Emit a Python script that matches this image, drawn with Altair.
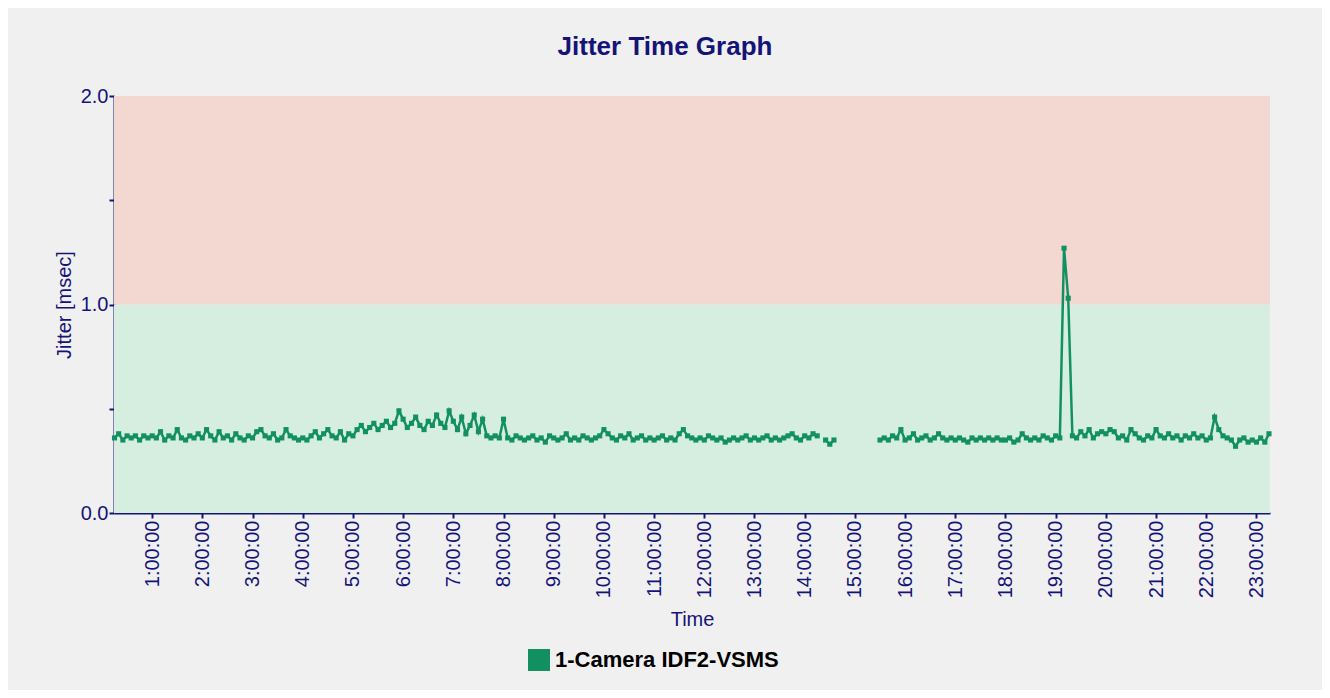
import altair as alt
import pandas as pd

SERIES = "1-Camera IDF2-VSMS"
TITLE = "Jitter Time Graph"
Y_TITLE = "Jitter [msec]"
X_TITLE = "Time"
HOUR_TICKS = list(range(1, 24))
Y_TICKS = [0, 0.5, 1.0, 1.5, 2.0]

# Samples every 5 minutes. Segment 1 starts 0:15, segment 2 starts 15:30.
seg1_start_min = 15
seg1_values = [
    # 0:15 - 0:55
    0.36, 0.38, 0.35, 0.37, 0.36, 0.37, 0.35, 0.37, 0.36,
    # 1:00
    0.37, 0.36, 0.39, 0.35, 0.37, 0.36, 0.40, 0.36, 0.35, 0.37, 0.36, 0.38,
    # 2:00
    0.36, 0.40, 0.37, 0.35, 0.39, 0.36, 0.37, 0.35, 0.38, 0.36, 0.35, 0.37,
    # 3:00
    0.36, 0.39, 0.40, 0.37, 0.36, 0.38, 0.35, 0.36, 0.40, 0.37, 0.36, 0.35,
    # 4:00
    0.36, 0.35, 0.37, 0.39, 0.36, 0.38, 0.40, 0.37, 0.36, 0.39, 0.35, 0.38,
    # 5:00
    0.37, 0.40, 0.42, 0.39, 0.41, 0.43, 0.40, 0.42, 0.44, 0.41, 0.43, 0.49,
    # 6:00
    0.45, 0.41, 0.43, 0.46, 0.42, 0.40, 0.44, 0.42, 0.47, 0.43, 0.41, 0.49,
    # 7:00
    0.44, 0.40, 0.46, 0.38, 0.42, 0.47, 0.39, 0.45, 0.37, 0.36, 0.37, 0.36,
    # 8:00
    0.45, 0.36, 0.35, 0.37, 0.36, 0.35, 0.36, 0.37, 0.35, 0.36, 0.34, 0.37,
    # 9:00
    0.36, 0.35, 0.36, 0.38, 0.35, 0.36, 0.35, 0.37, 0.36, 0.35, 0.36, 0.37,
    # 10:00
    0.40, 0.38, 0.36, 0.35, 0.37, 0.36, 0.38, 0.35, 0.36, 0.37, 0.35, 0.36,
    # 11:00
    0.35, 0.36, 0.37, 0.35, 0.36, 0.35, 0.38, 0.40, 0.37, 0.36, 0.35, 0.36,
    # 12:00
    0.35, 0.37, 0.36, 0.35, 0.36, 0.34, 0.35, 0.36, 0.35, 0.36, 0.37, 0.35,
    # 13:00
    0.36, 0.35, 0.36, 0.37, 0.35, 0.36, 0.35, 0.36, 0.37, 0.38, 0.36, 0.35,
    # 14:00 - 14:35
    0.37, 0.36, 0.38, 0.37, None, 0.35, 0.33, 0.35,
]

seg2_start_min = 15 * 60 + 30
seg2_values = [
    # 15:30 - 15:55
    0.35, 0.36, 0.35, 0.37, 0.36, 0.40,
    # 16:00
    0.35, 0.36, 0.38, 0.35, 0.36, 0.37, 0.35, 0.36, 0.38, 0.36, 0.35, 0.36,
    # 17:00
    0.35, 0.36, 0.35, 0.34, 0.36, 0.35, 0.36, 0.35, 0.36, 0.35, 0.36, 0.35,
    # 18:00
    0.35, 0.36, 0.34, 0.35, 0.38, 0.36, 0.35, 0.36, 0.35, 0.37, 0.36, 0.35,
    # 19:00
    0.37, 0.36, 1.27, 1.03, 0.37, 0.36, 0.39, 0.37, 0.40, 0.36, 0.38, 0.39,
    # 20:00
    0.38, 0.40, 0.39, 0.36, 0.37, 0.35, 0.40, 0.38, 0.36, 0.35, 0.37, 0.36,
    # 21:00
    0.40, 0.37, 0.36, 0.38, 0.36, 0.37, 0.35, 0.37, 0.36, 0.38, 0.36, 0.37,
    # 22:00
    0.35, 0.36, 0.46, 0.40, 0.37, 0.36, 0.35, 0.32, 0.35, 0.36, 0.34, 0.35,
    # 23:00 - 23:15
    0.34, 0.36, 0.34, 0.38,
]

rows = []
seg = 0
for start, vals in [(seg1_start_min, seg1_values), (seg2_start_min, seg2_values)]:
    seg += 1
    for i, v in enumerate(vals):
        if v is None:
            seg += 1
            continue
        rows.append({"hour": (start + 5 * i) / 60.0, "jitter": v,
                     "seg": seg, "series": SERIES})
df = pd.DataFrame(rows)

bands = pd.DataFrame({
    "lo": [0.0, 1.0],
    "hi": [1.0, 2.0],
    "fillc": ["#d6eedf", "#f2d8d1"],
})

W, H = 1156, 417
NAVY = "#141478"
GREEN = "#139062"
FONT = "Liberation Sans"

xscale = alt.Scale(domain=[0.24, 23.27], nice=False, zero=False)
yscale = alt.Scale(domain=[0, 2], nice=False)

band_layer = alt.Chart(bands).mark_rect().encode(
    x=alt.value(0), x2=alt.value(W),
    y=alt.Y("lo:Q", scale=yscale,
            axis=alt.Axis(values=Y_TICKS, title=Y_TITLE,
                          labelExpr="datum.value % 1 == 0 ? format(datum.value, '.1f') : ''")),
    y2="hi:Q",
    fill=alt.Fill("fillc:N", scale=None),
)

x_enc = alt.X("hour:Q", scale=xscale,
              axis=alt.Axis(values=HOUR_TICKS, title=X_TITLE, labelAngle=-90,
                            labelExpr="datum.value + ':00:00'"))
y_enc = alt.Y("jitter:Q", scale=yscale)
color_enc = alt.Color("series:N",
                      scale=alt.Scale(domain=[SERIES], range=[GREEN]),
                      legend=alt.Legend(title=None, orient="none",
                                        legendX=414, legendY=553,
                                        symbolType="square", symbolSize=484,
                                        symbolFillColor=GREEN, symbolStrokeWidth=0,
                                        labelFont=FONT, labelFontSize=22,
                                        labelFontWeight="bold", labelColor="black",
                                        labelOffset=5, labelLimit=0, padding=0))

line_layer = alt.Chart(df).mark_line(strokeWidth=2.5, color=GREEN).encode(
    x=x_enc, y=y_enc, detail="seg:N", color=color_enc,
)
point_layer = alt.Chart(df).mark_point(shape="square", size=26, filled=True,
                                       opacity=1, color=GREEN).encode(
    x=x_enc, y=y_enc, color=color_enc,
)

chart = alt.layer(band_layer, line_layer, point_layer).properties(
    width=W, height=H,
    padding={"left": 106, "top": 88, "right": 52, "bottom": 177},
    autosize=alt.AutoSizeParams(type="none"),
    title=alt.TitleParams(TITLE, fontSize=26, font=FONT, fontWeight="bold",
                          color=NAVY, anchor="middle", dx=-27, offset=26),
    background="#f0f0f0",
).configure_view(stroke=None).configure_axis(
    grid=False, domainColor=NAVY, tickColor=NAVY, labelColor=NAVY,
    titleColor=NAVY, labelFont=FONT, titleFont=FONT, labelFontSize=20,
    titleFontSize=20, titleFontWeight="normal", tickSize=5, domainWidth=2,
    tickWidth=2, labelPadding=2,
).configure_axisX(titlePadding=12).configure_axisY(titlePadding=6, labelPadding=1)

chart.save("out.html", embed_options={"renderer": "svg", "actions": False})
